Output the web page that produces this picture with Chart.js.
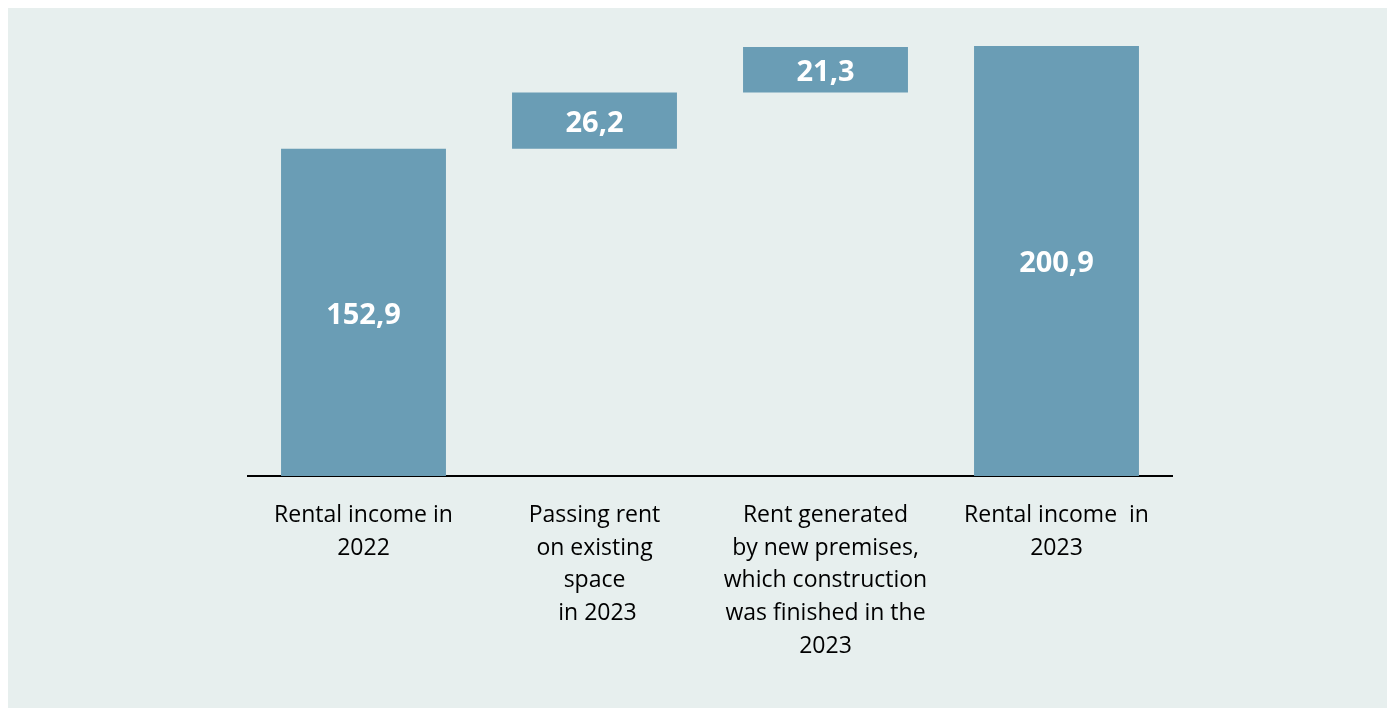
<!DOCTYPE html>
<html lang="en">

<head>
    <meta charset="UTF-8">
    <title>Rental income bridge 2022-2023</title>
    <script src="https://cdn.jsdelivr.net/npm/chart.js"></script>
    <style>
        body {
            margin: 0;
            background: #ffffff;
        }

        .panel {
            position: absolute;
            left: 8px;
            top: 8px;
            width: 1379px;
            height: 700px;
            background: #e7efee;
        }
    </style>
</head>

<body>

    <div class="panel">
        <canvas id="bridge" width="1379" height="700"></canvas>
    </div>

    <script>
        // Categories (multi-line labels under the axis)
        const categories = [
            ['Rental income in', '2022'],
            ['Passing rent', 'on existing', 'space', ' in 2023'],
            ['Rent generated', 'by new premises,', 'which construction', 'was finished in the', '2023'],
            ['Rental income  in', '2023']
        ];
        // Where each bar starts, and the amount it shows
        const barStarts = [0, 152.9, 179.1, 0];
        const barValues = [152.9, 26.2, 21.3, 200.9];

        const barColor = '#6a9db5';

        // White bold value written in the middle of every bar
        const valueLabels = {
            id: 'valueLabels',
            afterDatasetsDraw(chart) {
                const ctx = chart.ctx;
                const meta = chart.getDatasetMeta(0);
                ctx.save();
                ctx.fillStyle = '#ffffff';
                ctx.font = 'bold 29px "Open Sans"';
                ctx.textAlign = 'center';
                ctx.textBaseline = 'middle';
                meta.data.forEach((bar, i) => {
                    const text = barValues[i].toFixed(1).replace('.', ',');
                    ctx.fillText(text, bar.x, (bar.y + bar.base) / 2 + 3);
                });
                ctx.restore();
            }
        };

        new Chart(document.getElementById('bridge'), {
            type: 'bar',
            data: {
                labels: categories,
                datasets: [{
                    data: barStarts.map((s, i) => [s, s + barValues[i]]),
                    backgroundColor: barColor,
                    borderWidth: 0,
                    categoryPercentage: 1,
                    barPercentage: 0.714
                }]
            },
            options: {
                responsive: false,
                animation: false,
                layout: {
                    padding: { left: 240, right: 215, top: 0, bottom: 0 }
                },
                plugins: {
                    legend: { display: false },
                    tooltip: { enabled: false }
                },
                scales: {
                    x: {
                        grid: { display: false, drawTicks: false },
                        border: { display: true, color: '#000000', width: 2 },
                        ticks: {
                            color: '#000000',
                            padding: 23,
                            maxRotation: 0,
                            autoSkip: false,
                            font: { family: '"Open Sans"', size: 23, lineHeight: 1.42 }
                        },
                        afterFit(scale) {
                            scale.height = 232;
                        }
                    },
                    y: {
                        display: false,
                        min: 0,
                        max: 218.6
                    }
                }
            },
            plugins: [valueLabels]
        });
    </script>

</body>

</html>
